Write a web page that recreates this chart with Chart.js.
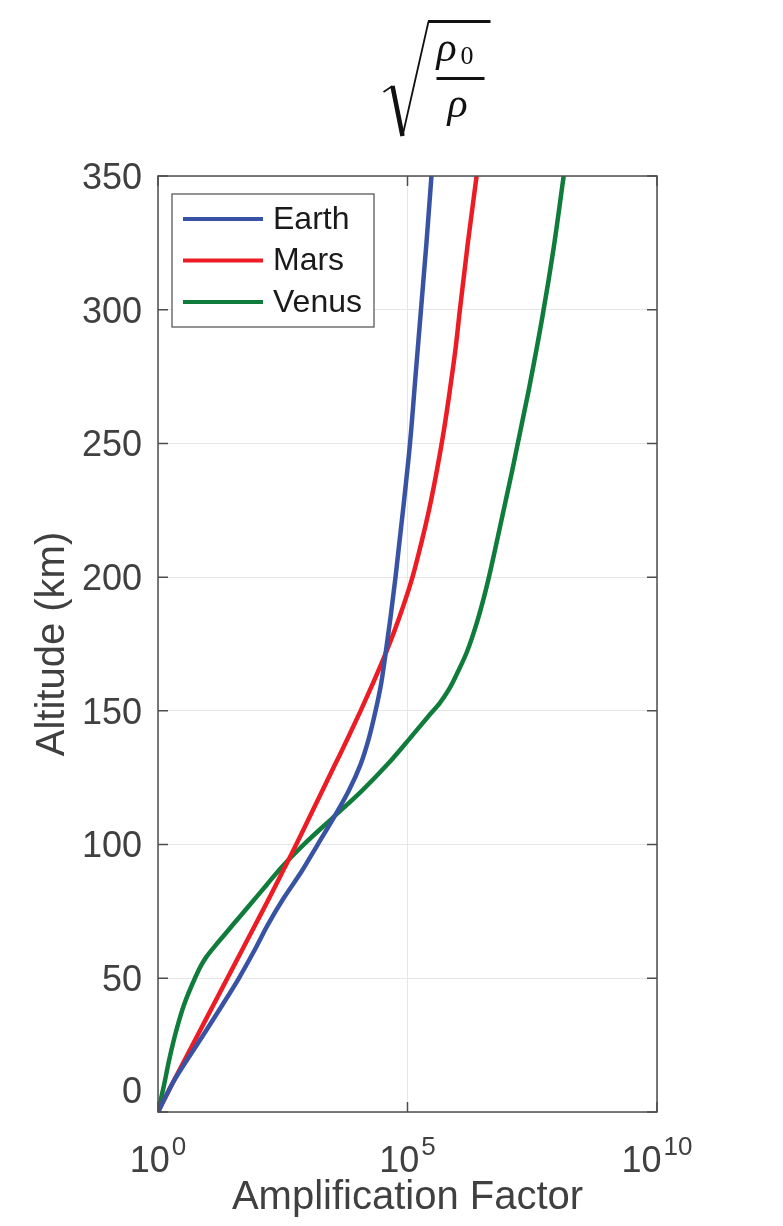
<!DOCTYPE html>
<html>
<head>
<meta charset="utf-8">
<script src="https://cdn.jsdelivr.net/npm/chart.js@4/dist/chart.umd.min.js"></script>
<style>
  html, body { margin: 0; padding: 0; background: #ffffff; }
  #wrap { width: 783px; height: 1226px; }
</style>
</head>
<body>
<div id="wrap"><canvas id="chart" width="783" height="1226"></canvas></div>
<script>
// Altitude samples (km) and amplification factor sqrt(rho0/rho) as powers of ten
const earthAlt = [0, 6, 12, 20, 30, 40, 50, 60, 70, 80, 90, 100, 110, 120, 130, 140, 150, 160, 170, 185, 200, 225, 250, 275, 300, 325, 350];
const earthExp = [0, 0.16, 0.33, 0.6, 0.95, 1.29, 1.62, 1.92, 2.2, 2.52, 2.88, 3.2, 3.52, 3.82, 4.06, 4.23, 4.36, 4.47, 4.55, 4.66, 4.76, 4.91, 5.05, 5.16, 5.27, 5.38, 5.48];

const marsAlt = [0, 10, 20, 30, 40, 50, 60, 70, 80, 90, 100, 110, 120, 130, 140, 150, 160, 170, 180, 190, 200, 213, 225, 238, 255, 270, 285, 300, 325, 350];
const marsExp = [0, 0.27, 0.55, 0.83, 1.11, 1.39, 1.67, 1.95, 2.23, 2.5, 2.77, 3.03, 3.29, 3.55, 3.81, 4.06, 4.3, 4.53, 4.74, 4.93, 5.1, 5.28, 5.43, 5.57, 5.73, 5.85, 5.96, 6.05, 6.21, 6.385];

const venusAlt = [0, 5, 10, 20, 30, 40, 50, 55, 58, 62, 66, 70, 77, 85, 92, 100, 110, 120, 130, 140, 148, 153, 158, 165, 172, 183, 196, 215, 240, 270, 297, 322, 350];
const venusExp = [0, 0.06, 0.12, 0.23, 0.36, 0.52, 0.74, 0.87, 0.97, 1.14, 1.32, 1.5, 1.82, 2.18, 2.5, 2.92, 3.5, 4.08, 4.6, 5.06, 5.42, 5.65, 5.83, 6.02, 6.19, 6.39, 6.58, 6.81, 7.1, 7.43, 7.7, 7.92, 8.13];

const seriesNames = ['Earth', 'Mars', 'Venus'];
const seriesColors = ['#3953a4', '#ed1c24', '#0f7c3b'];

// Axis ticks
const xTickExponents = [0, 5, 10];
const yTickValues = [0, 50, 100, 150, 200, 250, 300, 350];

const SANS = '"Liberation Sans", Arial, Helvetica, sans-serif';
const SERIF = '"Liberation Serif", "Times New Roman", serif';
const TEXT_GREY = '#404040';
const AXIS_GREY = '#4d4d4d';

function toPoints(alts, exps) {
  return alts.map((a, i) => ({ x: Math.pow(10, exps[i]), y: a }));
}

const profiles = [toPoints(earthAlt, earthExp), toPoints(marsAlt, marsExp), toPoints(venusAlt, venusExp)];

// Box frame, inward ticks, power-of-ten tick labels, legend and the sqrt(rho0/rho) heading
const decorations = {
  id: 'decorations',
  afterDraw(chart) {
    const { ctx, chartArea: a, scales: { x, y } } = chart;
    ctx.save();

    // frame
    ctx.strokeStyle = AXIS_GREY;
    ctx.lineWidth = 1.5;
    ctx.strokeRect(a.left, a.top, a.right - a.left, a.bottom - a.top);

    // inward tick marks on all four sides
    const tl = 10;
    ctx.beginPath();
    y.ticks.forEach(t => {
      const py = y.getPixelForValue(t.value);
      ctx.moveTo(a.left, py); ctx.lineTo(a.left + tl, py);
      ctx.moveTo(a.right, py); ctx.lineTo(a.right - tl, py);
    });
    x.ticks.forEach(t => {
      const px = x.getPixelForValue(t.value);
      ctx.moveTo(px, a.bottom); ctx.lineTo(px, a.bottom - tl);
      ctx.moveTo(px, a.top); ctx.lineTo(px, a.top + tl);
    });
    ctx.stroke();

    // x tick labels as 10 with a raised exponent
    ctx.fillStyle = TEXT_GREY;
    ctx.textBaseline = 'alphabetic';
    ctx.textAlign = 'left';
    const baseFont = '36px ' + SANS;
    const supFont = '26px ' + SANS;
    x.ticks.forEach(t => {
      const px = x.getPixelForValue(t.value);
      const expText = String(Math.round(Math.log10(t.value)));
      ctx.font = baseFont;
      const wBase = ctx.measureText('10').width;
      ctx.font = supFont;
      const wSup = ctx.measureText(expText).width;
      const left = px - (wBase + 2 + wSup) / 2;
      ctx.font = baseFont;
      ctx.fillText('10', left, a.bottom + 60);
      ctx.font = supFont;
      ctx.fillText(expText, left + wBase + 2, a.bottom + 43);
    });

    // legend
    const lx = a.left + 14, ly = a.top + 18, lw = 202, lh = 133;
    ctx.fillStyle = '#ffffff';
    ctx.fillRect(lx, ly, lw, lh);
    ctx.strokeStyle = '#5a5a5a';
    ctx.lineWidth = 1.3;
    ctx.strokeRect(lx, ly, lw, lh);
    ctx.font = '32px ' + SANS;
    ctx.textBaseline = 'middle';
    chart.data.datasets.forEach((ds, i) => {
      const ry = ly + 25 + i * 41.5;
      ctx.strokeStyle = ds.borderColor;
      ctx.lineWidth = 4;
      ctx.beginPath();
      ctx.moveTo(lx + 11, ry); ctx.lineTo(lx + 91, ry);
      ctx.stroke();
      ctx.fillStyle = '#1a1a1a';
      ctx.fillText(ds.label, lx + 101, ry + 1);
    });

    // heading: sqrt(rho_0 / rho)
    const cx = (a.left + a.right) / 2;
    const ox = cx - 21;           // left end of the radical sign
    ctx.fillStyle = '#111111';
    ctx.strokeStyle = '#111111';
    ctx.lineCap = 'butt';
    ctx.lineJoin = 'miter';
    // hook
    ctx.lineWidth = 1.6;
    ctx.beginPath();
    ctx.moveTo(ox - 3, 92); ctx.lineTo(ox + 6, 86);
    ctx.stroke();
    // heavy down stroke
    ctx.lineWidth = 4.5;
    ctx.beginPath();
    ctx.moveTo(ox + 6, 86); ctx.lineTo(ox + 16, 136);
    ctx.stroke();
    // light up stroke and overbar
    ctx.lineWidth = 1.8;
    ctx.beginPath();
    ctx.moveTo(ox + 16, 136); ctx.lineTo(ox + 42, 21.5);
    ctx.stroke();
    ctx.lineWidth = 3;
    ctx.beginPath();
    ctx.moveTo(ox + 41.5, 21.5); ctx.lineTo(ox + 104, 21.5);
    ctx.stroke();
    // fraction bar
    ctx.beginPath();
    ctx.moveTo(ox + 50, 78.5); ctx.lineTo(ox + 98, 78.5);
    ctx.stroke();
    // numerator and denominator
    ctx.textBaseline = 'alphabetic';
    ctx.textAlign = 'left';
    ctx.font = 'italic 42px ' + SERIF;
    ctx.fillText('ρ', ox + 50, 61);
    ctx.font = '26px ' + SERIF;
    ctx.fillText('0', ox + 74, 64);
    ctx.font = 'italic 42px ' + SERIF;
    ctx.fillText('ρ', ox + 61, 117);

    ctx.restore();
  }
};

new Chart(document.getElementById('chart').getContext('2d'), {
  type: 'line',
  data: {
    datasets: profiles.map((pts, i) => ({
      label: seriesNames[i],
      data: pts,
      borderColor: seriesColors[i],
      backgroundColor: seriesColors[i],
      borderWidth: 4.5,
      pointRadius: 0,
      fill: false,
      cubicInterpolationMode: 'monotone'
    }))
  },
  options: {
    indexAxis: 'y',
    responsive: false,
    animation: false,
    devicePixelRatio: 1,
    layout: { padding: { left: 0, right: 126, top: 176, bottom: 0 } },
    plugins: {
      legend: { display: false },
      title: { display: false },
      tooltip: { enabled: false }
    },
    scales: {
      x: {
        type: 'logarithmic',
        position: 'bottom',
        min: Math.pow(10, xTickExponents[0]),
        max: Math.pow(10, xTickExponents[xTickExponents.length - 1]),
        afterBuildTicks: s => { s.ticks = xTickExponents.map(e => ({ value: Math.pow(10, e) })); },
        afterFit: s => { s.height = 114; },
        ticks: { display: false },
        grid: { color: '#e6e6e6', lineWidth: 1, drawTicks: false },
        border: { display: false },
        title: {
          display: true,
          text: 'Amplification Factor',
          color: TEXT_GREY,
          font: { family: SANS, size: 40 },
          padding: { top: 0, bottom: 4 }
        }
      },
      y: {
        type: 'linear',
        position: 'left',
        min: yTickValues[0],
        max: yTickValues[yTickValues.length - 1],
        afterBuildTicks: s => { s.ticks = yTickValues.map(v => ({ value: v })); },
        afterFit: s => { s.width = 158; },
        ticks: {
          color: TEXT_GREY,
          font: { family: SANS, size: 36 },
          padding: 16,
          labelOffset: 3,
          // the zero label sits half a line above the corner
          callback: v => (v === 0 ? ['0', ''] : String(v))
        },
        grid: { color: '#e6e6e6', lineWidth: 1, drawTicks: false },
        border: { display: false },
        title: {
          display: true,
          text: 'Altitude (km)',
          color: TEXT_GREY,
          font: { family: SANS, size: 40 },
          padding: { top: 29, bottom: 0 }
        }
      }
    }
  },
  plugins: [decorations]
});
</script>
</body>
</html>
